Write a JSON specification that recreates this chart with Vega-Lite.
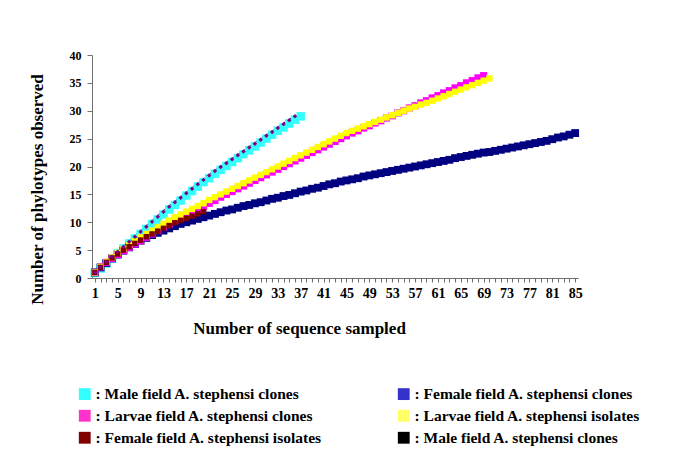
{
"$schema": "https://vega.github.io/schema/vega-lite/v6.json",
"width": 486, "height": 223,
"autosize": "none",
"padding": {"left": 92, "top": 55, "right": 107, "bottom": 188},
"background": "white",
"config": {"view": {"stroke": null}, "font": "Liberation Serif"},
"data": {"values": [
{"s":"s1","x":1,"y":0.9},{"s":"s1","x":2,"y":1.7},{"s":"s1","x":3,"y":2.6},{"s":"s1","x":4,"y":3.5},{"s":"s1","x":5,"y":4.4},{"s":"s1","x":6,"y":5.3},{"s":"s1","x":7,"y":6.2},{"s":"s1","x":8,"y":7.1},{"s":"s1","x":9,"y":7.9},{"s":"s1","x":10,"y":8.8},{"s":"s1","x":11,"y":9.7},{"s":"s1","x":12,"y":10.5},{"s":"s1","x":13,"y":11.4},{"s":"s1","x":14,"y":12.3},{"s":"s1","x":15,"y":13.1},{"s":"s1","x":16,"y":13.9},{"s":"s1","x":17,"y":14.8},{"s":"s1","x":18,"y":15.6},{"s":"s1","x":19,"y":16.4},{"s":"s1","x":20,"y":17.2},{"s":"s1","x":21,"y":17.9},{"s":"s1","x":22,"y":18.7},{"s":"s1","x":23,"y":19.4},{"s":"s1","x":24,"y":20.1},{"s":"s1","x":25,"y":20.8},{"s":"s1","x":26,"y":21.5},{"s":"s1","x":27,"y":22.2},{"s":"s1","x":28,"y":22.9},{"s":"s1","x":29,"y":23.6},{"s":"s1","x":30,"y":24.3},{"s":"s1","x":31,"y":25.0},{"s":"s1","x":32,"y":25.7},{"s":"s1","x":33,"y":26.4},{"s":"s1","x":34,"y":27.0},{"s":"s1","x":35,"y":27.7},{"s":"s1","x":36,"y":28.4},{"s":"s1","x":37,"y":29.0},
{"s":"s2","x":1,"y":1.0},{"s":"s2","x":2,"y":1.9},{"s":"s2","x":3,"y":2.7},{"s":"s2","x":4,"y":3.5},{"s":"s2","x":5,"y":4.2},{"s":"s2","x":6,"y":4.9},{"s":"s2","x":7,"y":5.5},{"s":"s2","x":8,"y":6.1},{"s":"s2","x":9,"y":6.7},{"s":"s2","x":10,"y":7.2},{"s":"s2","x":11,"y":7.7},{"s":"s2","x":12,"y":8.1},{"s":"s2","x":13,"y":8.5},{"s":"s2","x":14,"y":8.9},{"s":"s2","x":15,"y":9.3},{"s":"s2","x":16,"y":9.7},{"s":"s2","x":17,"y":10.0},{"s":"s2","x":18,"y":10.3},{"s":"s2","x":19,"y":10.6},{"s":"s2","x":20,"y":10.9},{"s":"s2","x":21,"y":11.2},{"s":"s2","x":22,"y":11.5},{"s":"s2","x":23,"y":11.8},{"s":"s2","x":24,"y":12.1},{"s":"s2","x":25,"y":12.3},{"s":"s2","x":26,"y":12.6},{"s":"s2","x":27,"y":12.9},{"s":"s2","x":28,"y":13.1},{"s":"s2","x":29,"y":13.4},{"s":"s2","x":30,"y":13.6},{"s":"s2","x":31,"y":13.9},{"s":"s2","x":32,"y":14.2},{"s":"s2","x":33,"y":14.4},{"s":"s2","x":34,"y":14.7},{"s":"s2","x":35,"y":14.9},{"s":"s2","x":36,"y":15.2},{"s":"s2","x":37,"y":15.5},{"s":"s2","x":38,"y":15.7},{"s":"s2","x":39,"y":16.0},{"s":"s2","x":40,"y":16.2},{"s":"s2","x":41,"y":16.5},{"s":"s2","x":42,"y":16.8},{"s":"s2","x":43,"y":17.0},{"s":"s2","x":44,"y":17.3},{"s":"s2","x":45,"y":17.5},{"s":"s2","x":46,"y":17.7},{"s":"s2","x":47,"y":17.9},{"s":"s2","x":48,"y":18.2},{"s":"s2","x":49,"y":18.4},{"s":"s2","x":50,"y":18.6},{"s":"s2","x":51,"y":18.8},{"s":"s2","x":52,"y":19.0},{"s":"s2","x":53,"y":19.2},{"s":"s2","x":54,"y":19.4},{"s":"s2","x":55,"y":19.6},{"s":"s2","x":56,"y":19.8},{"s":"s2","x":57,"y":20.0},{"s":"s2","x":58,"y":20.2},{"s":"s2","x":59,"y":20.4},{"s":"s2","x":60,"y":20.6},{"s":"s2","x":61,"y":20.8},{"s":"s2","x":62,"y":21.0},{"s":"s2","x":63,"y":21.2},{"s":"s2","x":64,"y":21.5},{"s":"s2","x":65,"y":21.7},{"s":"s2","x":66,"y":21.9},{"s":"s2","x":67,"y":22.1},{"s":"s2","x":68,"y":22.3},{"s":"s2","x":69,"y":22.5},{"s":"s2","x":70,"y":22.6},{"s":"s2","x":71,"y":22.8},{"s":"s2","x":72,"y":23.0},{"s":"s2","x":73,"y":23.2},{"s":"s2","x":74,"y":23.4},{"s":"s2","x":75,"y":23.6},{"s":"s2","x":76,"y":23.8},{"s":"s2","x":77,"y":24.0},{"s":"s2","x":78,"y":24.2},{"s":"s2","x":79,"y":24.4},{"s":"s2","x":80,"y":24.6},{"s":"s2","x":81,"y":24.9},{"s":"s2","x":82,"y":25.2},{"s":"s2","x":83,"y":25.4},{"s":"s2","x":84,"y":25.7},{"s":"s2","x":85,"y":26.0},
{"s":"s3","x":1,"y":1.0},{"s":"s3","x":2,"y":2.0},{"s":"s3","x":3,"y":2.8},{"s":"s3","x":4,"y":3.5},{"s":"s3","x":5,"y":4.2},{"s":"s3","x":6,"y":4.9},{"s":"s3","x":7,"y":5.5},{"s":"s3","x":8,"y":6.1},{"s":"s3","x":9,"y":6.7},{"s":"s3","x":10,"y":7.3},{"s":"s3","x":11,"y":7.9},{"s":"s3","x":12,"y":8.5},{"s":"s3","x":13,"y":9.1},{"s":"s3","x":14,"y":9.7},{"s":"s3","x":15,"y":10.3},{"s":"s3","x":16,"y":10.8},{"s":"s3","x":17,"y":11.3},{"s":"s3","x":18,"y":11.8},{"s":"s3","x":19,"y":12.3},{"s":"s3","x":20,"y":12.8},{"s":"s3","x":21,"y":13.4},{"s":"s3","x":22,"y":13.9},{"s":"s3","x":23,"y":14.5},{"s":"s3","x":24,"y":15.0},{"s":"s3","x":25,"y":15.5},{"s":"s3","x":26,"y":16.0},{"s":"s3","x":27,"y":16.5},{"s":"s3","x":28,"y":17.0},{"s":"s3","x":29,"y":17.5},{"s":"s3","x":30,"y":18.0},{"s":"s3","x":31,"y":18.5},{"s":"s3","x":32,"y":19.0},{"s":"s3","x":33,"y":19.5},{"s":"s3","x":34,"y":20.0},{"s":"s3","x":35,"y":20.5},{"s":"s3","x":36,"y":21.0},{"s":"s3","x":37,"y":21.5},{"s":"s3","x":38,"y":22.0},{"s":"s3","x":39,"y":22.5},{"s":"s3","x":40,"y":23.0},{"s":"s3","x":41,"y":23.5},{"s":"s3","x":42,"y":24.0},{"s":"s3","x":43,"y":24.5},{"s":"s3","x":44,"y":25.0},{"s":"s3","x":45,"y":25.5},{"s":"s3","x":46,"y":26.0},{"s":"s3","x":47,"y":26.4},{"s":"s3","x":48,"y":26.9},{"s":"s3","x":49,"y":27.3},{"s":"s3","x":50,"y":27.8},{"s":"s3","x":51,"y":28.2},{"s":"s3","x":52,"y":28.7},{"s":"s3","x":53,"y":29.1},{"s":"s3","x":54,"y":29.6},{"s":"s3","x":55,"y":30.0},{"s":"s3","x":56,"y":30.5},{"s":"s3","x":57,"y":30.9},{"s":"s3","x":58,"y":31.4},{"s":"s3","x":59,"y":31.8},{"s":"s3","x":60,"y":32.3},{"s":"s3","x":61,"y":32.7},{"s":"s3","x":62,"y":33.2},{"s":"s3","x":63,"y":33.6},{"s":"s3","x":64,"y":34.1},{"s":"s3","x":65,"y":34.5},{"s":"s3","x":66,"y":35.0},{"s":"s3","x":67,"y":35.4},{"s":"s3","x":68,"y":35.9},{"s":"s3","x":69,"y":36.3},
{"s":"s4","x":1,"y":1.0},{"s":"s4","x":2,"y":2.0},{"s":"s4","x":3,"y":2.9},{"s":"s4","x":4,"y":3.7},{"s":"s4","x":5,"y":4.5},{"s":"s4","x":6,"y":5.2},{"s":"s4","x":7,"y":5.9},{"s":"s4","x":8,"y":6.6},{"s":"s4","x":9,"y":7.3},{"s":"s4","x":10,"y":7.9},{"s":"s4","x":11,"y":8.5},{"s":"s4","x":12,"y":9.1},{"s":"s4","x":13,"y":9.7},{"s":"s4","x":14,"y":10.3},{"s":"s4","x":15,"y":10.9},{"s":"s4","x":16,"y":11.4},{"s":"s4","x":17,"y":11.9},{"s":"s4","x":18,"y":12.4},{"s":"s4","x":19,"y":12.9},{"s":"s4","x":20,"y":13.4},{"s":"s4","x":21,"y":14.0},{"s":"s4","x":22,"y":14.5},{"s":"s4","x":23,"y":15.0},{"s":"s4","x":24,"y":15.5},{"s":"s4","x":25,"y":16.0},{"s":"s4","x":26,"y":16.5},{"s":"s4","x":27,"y":17.0},{"s":"s4","x":28,"y":17.5},{"s":"s4","x":29,"y":18.0},{"s":"s4","x":30,"y":18.5},{"s":"s4","x":31,"y":19.0},{"s":"s4","x":32,"y":19.5},{"s":"s4","x":33,"y":20.0},{"s":"s4","x":34,"y":20.5},{"s":"s4","x":35,"y":21.0},{"s":"s4","x":36,"y":21.5},{"s":"s4","x":37,"y":22.0},{"s":"s4","x":38,"y":22.5},{"s":"s4","x":39,"y":23.0},{"s":"s4","x":40,"y":23.5},{"s":"s4","x":41,"y":24.0},{"s":"s4","x":42,"y":24.5},{"s":"s4","x":43,"y":25.0},{"s":"s4","x":44,"y":25.5},{"s":"s4","x":45,"y":26.0},{"s":"s4","x":46,"y":26.4},{"s":"s4","x":47,"y":26.8},{"s":"s4","x":48,"y":27.2},{"s":"s4","x":49,"y":27.6},{"s":"s4","x":50,"y":28.0},{"s":"s4","x":51,"y":28.4},{"s":"s4","x":52,"y":28.8},{"s":"s4","x":53,"y":29.2},{"s":"s4","x":54,"y":29.6},{"s":"s4","x":55,"y":30.0},{"s":"s4","x":56,"y":30.4},{"s":"s4","x":57,"y":30.7},{"s":"s4","x":58,"y":31.1},{"s":"s4","x":59,"y":31.4},{"s":"s4","x":60,"y":31.8},{"s":"s4","x":61,"y":32.2},{"s":"s4","x":62,"y":32.6},{"s":"s4","x":63,"y":33.0},{"s":"s4","x":64,"y":33.4},{"s":"s4","x":65,"y":33.8},{"s":"s4","x":66,"y":34.2},{"s":"s4","x":67,"y":34.6},{"s":"s4","x":68,"y":35.0},{"s":"s4","x":69,"y":35.4},{"s":"s4","x":70,"y":35.8},
{"s":"s5","x":1,"y":1.0},{"s":"s5","x":2,"y":1.9},{"s":"s5","x":3,"y":2.8},{"s":"s5","x":4,"y":3.6},{"s":"s5","x":5,"y":4.3},{"s":"s5","x":6,"y":5.0},{"s":"s5","x":7,"y":5.6},{"s":"s5","x":8,"y":6.2},{"s":"s5","x":9,"y":6.8},{"s":"s5","x":10,"y":7.4},{"s":"s5","x":11,"y":7.9},{"s":"s5","x":12,"y":8.4},{"s":"s5","x":13,"y":8.9},{"s":"s5","x":14,"y":9.4},{"s":"s5","x":15,"y":9.9},{"s":"s5","x":16,"y":10.3},{"s":"s5","x":17,"y":10.7},{"s":"s5","x":18,"y":11.1},{"s":"s5","x":19,"y":11.5},{"s":"s5","x":20,"y":11.9},
{"s":"s6","x":1,"y":1.0},{"s":"s6","x":2,"y":2.0},{"s":"s6","x":3,"y":2.9},{"s":"s6","x":4,"y":3.8},{"s":"s6","x":5,"y":4.7},{"s":"s6","x":6,"y":5.6},{"s":"s6","x":7,"y":6.5},{"s":"s6","x":8,"y":7.4},{"s":"s6","x":9,"y":8.3},{"s":"s6","x":10,"y":9.2},{"s":"s6","x":11,"y":10.1},{"s":"s6","x":12,"y":11.0},{"s":"s6","x":13,"y":11.9},{"s":"s6","x":14,"y":12.8},{"s":"s6","x":15,"y":13.6},{"s":"s6","x":16,"y":14.4},{"s":"s6","x":17,"y":15.2},{"s":"s6","x":18,"y":16.0},{"s":"s6","x":19,"y":16.8},{"s":"s6","x":20,"y":17.6},{"s":"s6","x":21,"y":18.4},{"s":"s6","x":22,"y":19.2},{"s":"s6","x":23,"y":19.9},{"s":"s6","x":24,"y":20.6},{"s":"s6","x":25,"y":21.3},{"s":"s6","x":26,"y":22.0},{"s":"s6","x":27,"y":22.7},{"s":"s6","x":28,"y":23.4},{"s":"s6","x":29,"y":24.1},{"s":"s6","x":30,"y":24.8},{"s":"s6","x":31,"y":25.5},{"s":"s6","x":32,"y":26.2},{"s":"s6","x":33,"y":26.9},{"s":"s6","x":34,"y":27.6},{"s":"s6","x":35,"y":28.3},{"s":"s6","x":36,"y":29.0}
]},
"encoding": {
  "x": {"field": "x", "type": "ordinal", "sort": "ascending", "scale": {"type": "point", "padding": 0.5},
    "axis": {"title": "Number of sequence sampled", "titleFont": "Liberation Serif", "titleFontSize": 17, "titleFontWeight": "bold", "titleColor": "black",
      "titleX": 207, "titleY": 50, "titleBaseline": "middle",
      "labelAngle": 0, "labelExpr": "(datum.value - 1) % 4 === 0 ? datum.label : ''", "labelOverlap": false,
      "labelFont": "Liberation Serif", "labelFontSize": 14, "labelFontWeight": "bold", "labelColor": "black", "labelPadding": 4,
      "tickSize": 4, "tickColor": "#707070", "domainColor": "#707070", "grid": false}},
  "y": {"field": "y", "type": "quantitative", "scale": {"domain": [0, 40], "nice": false},
    "axis": {"title": "Number of phylotypes observed", "titleFont": "Liberation Serif", "titleFontSize": 17, "titleFontWeight": "bold", "titleColor": "black",
      "titleX": -55, "titleY": 134, "titleAngle": -90, "titleBaseline": "middle", "titleAlign": "center",
      "values": [0, 5, 10, 15, 20, 25, 30, 35, 40],
      "labelFont": "Liberation Serif", "labelFontSize": 12, "labelFontWeight": "bold", "labelColor": "black", "labelPadding": 6,
      "tickSize": 5, "tickColor": "#707070", "domainColor": "#707070", "grid": false}}
},
"layer": [
  {"mark": {"type": "line", "strokeWidth": 2.5},
   "encoding": {"color": {"field": "s", "type": "nominal", "scale": {"domain": ["s1","s2","s3","s4","s5","s6"], "range": ["#33FFFF","#000080","#FF00FF","#FFFF00","#800000","#800080"]}, "legend": null}}},
  {"mark": {"type": "point", "filled": true, "opacity": 1},
   "encoding": {
     "color": {"field": "s", "type": "nominal", "scale": {"domain": ["s1","s2","s3","s4","s5","s6"], "range": ["#33FFFF","#000080","#FF00FF","#FFFF00","#800000","#800080"]}, "legend": null},
     "shape": {"field": "s", "type": "nominal", "scale": {"domain": ["s1","s2","s3","s4","s5","s6"], "range": ["square","square","square","square","square","diamond"]}, "legend": null},
     "size": {"field": "s", "type": "nominal", "scale": {"domain": ["s1","s2","s3","s4","s5","s6"], "range": [72, 20, 64, 30, 64, 40]}, "legend": null}}},
  {"transform": [{"calculate": "datum.s", "as": "key"}],
   "mark": {"type": "square", "size": 0, "opacity": 1},
   "encoding": {
     "fill": {"field": "key", "type": "nominal", "sort": "ascending", "scale": {"range": ["#33FFFF","#3333CC","#FF33CC","#FFFF66","#800000","#000000"]},
       "legend": {"orient": "none", "legendX": -15, "legendY": 331, "columns": 2, "direction": "horizontal", "title": null,
         "labelFont": "Liberation Serif", "labelFontSize": 15.5, "labelFontWeight": "bold", "labelColor": "black", "labelLimit": 400,
         "symbolType": "square", "symbolSize": 140, "symbolOpacity": 1, "symbolStrokeWidth": 0, "labelOffset": 3,
         "rowPadding": 5, "columnPadding": 74,
         "labelExpr": "datum.value == 's1' ? ': Male field A. stephensi clones' : datum.value == 's2' ? ': Female field A. stephensi clones' : datum.value == 's3' ? ': Larvae field A. stephensi clones' : datum.value == 's4' ? ': Larvae field A. stephensi isolates' : datum.value == 's5' ? ': Female field A. stephensi isolates' : ': Male field A. stephensi clones'"}}}}
]
}
